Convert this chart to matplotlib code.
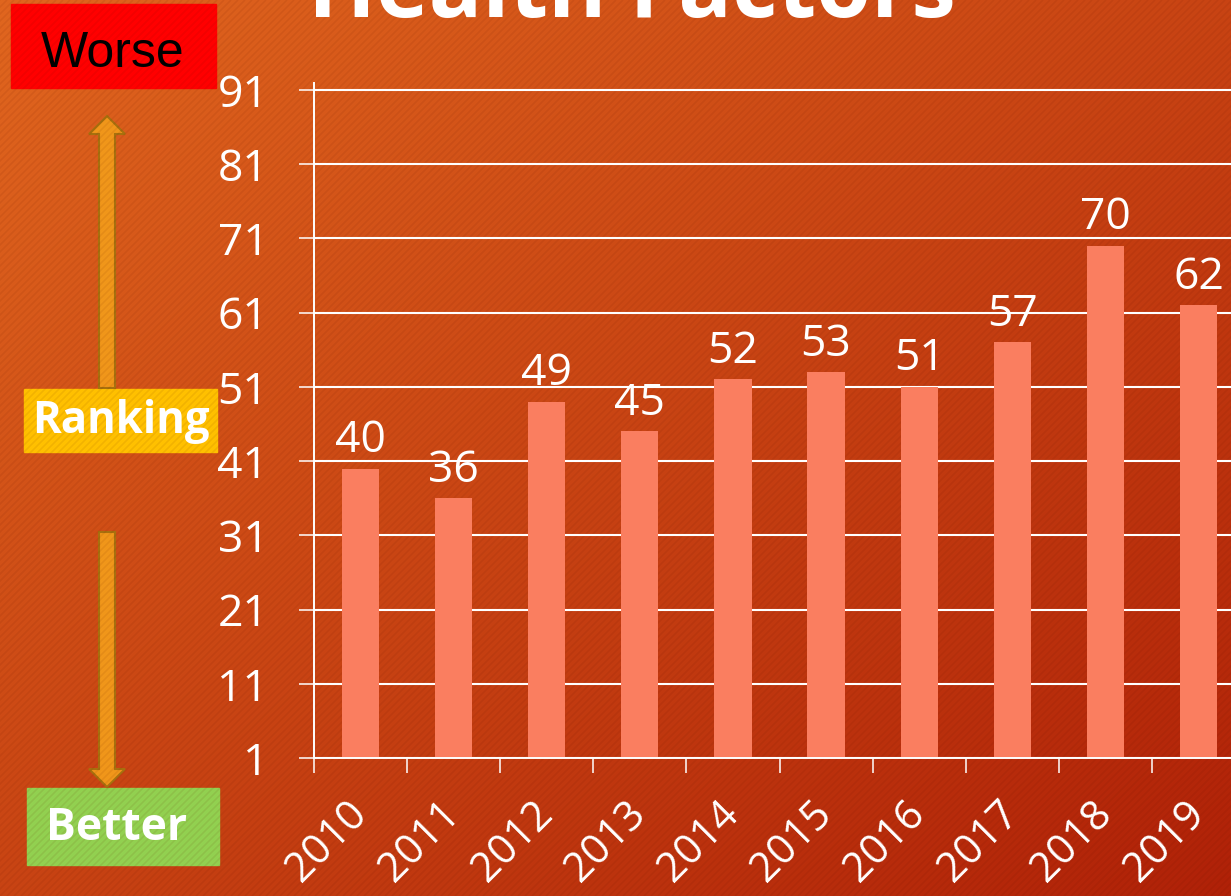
import matplotlib.pyplot as plt
import numpy as np
from matplotlib.patches import Rectangle, Polygon
from matplotlib.collections import LineCollection

plt.rcParams['font.family'] = ['Open Sans', 'DejaVu Sans']

# data
years = ['2010', '2011', '2012', '2013', '2014', '2015', '2016', '2017', '2018', '2019']
ranks = [40, 36, 49, 45, 52, 53, 51, 57, 70, 62]
yticks = [1, 11, 21, 31, 41, 51, 61, 71, 81, 91]

W, H = 1231, 896
fig = plt.figure(figsize=(W / 100, H / 100), dpi=100)

# background: diagonal orange -> red gradient with faint stripes (pixel coords)
bg = fig.add_axes([0, 0, 1, 1], zorder=0)
bg.set_xlim(0, W)
bg.set_ylim(H, 0)
bg.axis('off')
yy, xx = np.mgrid[0:1:200j, 0:1:200j]
t = (xx + yy) / 2
c0 = np.array([0.88, 0.40, 0.12])
c1 = np.array([0.69, 0.13, 0.03])
img = c0 + (c1 - c0) * t[..., None]
bg.imshow(img, extent=(0, W, H, 0), aspect='auto', interpolation='bilinear')
offs = np.arange(-H, W, 7)
segs = [[(o, H), (o + H, 0)] for o in offs]
bg.add_collection(LineCollection(segs, colors='#5a1000', linewidths=1.2, alpha=0.08))

# title (cut off at the top as in the slide)
bg.text(632, 17, 'Health Factors', ha='center', va='baseline', fontsize=64,
        fontweight='bold', color='white')

# side legend: Worse / Ranking / Better with arrows
bg.add_patch(Rectangle((11, 4), 205, 84, color='#FF0000'))
bg.text(113, 54, 'Worse', ha='center', va='center', fontsize=36,
        family='Liberation Sans', color='black')
bg.add_patch(Rectangle((24, 389), 193, 63, color='#FFC000'))
bg.text(121, 421, 'Ranking', ha='center', va='center', fontsize=31.5,
        fontweight='bold', color='white')
bg.add_patch(Rectangle((27, 788), 192, 77, color='#92D050'))
bg.text(117, 828, 'Better', ha='center', va='center', fontsize=32,
        fontweight='bold', color='white')

up = [(107, 116), (125, 134), (115, 134), (115, 388), (99, 388), (99, 134), (89, 134)]
down = [(107, 787), (125, 769), (115, 769), (115, 532), (99, 532), (99, 769), (89, 769)]
for pts in (up, down):
    bg.add_patch(Polygon(pts, closed=True, facecolor='#F0961A', edgecolor='#A8700E', lw=1.5))

# main bar chart
ax = fig.add_axes([314 / W, (H - 758) / H, 931 / W, 675.4 / H], zorder=1)
ax.patch.set_alpha(0)
x = np.arange(len(years))
bars = ax.bar(x, ranks, width=0.4, color='#FA7E60', zorder=2)
ax.set_xlim(-0.5, 9.5)
ax.set_ylim(1, 92)

ax.set_yticks(yticks)
ax.yaxis.grid(True, color='white', lw=1.5)
ax.set_axisbelow(True)
ax.tick_params(axis='y', length=10.8, width=1.1, color='white', pad=22,
               labelsize=32, labelcolor='white')

ax.set_xticks(np.arange(-0.5, 10, 1))
ax.set_xticklabels([])
ax.set_xticks(x, years, minor=True)
ax.tick_params(axis='x', which='major', length=10.8, width=1.1, color='white')
ax.tick_params(axis='x', which='minor', length=0, pad=36, labelsize=30,
               labelcolor='white', labelrotation=45)
for lbl in ax.get_xticklabels(minor=True):
    lbl.set_ha('right')
    lbl.set_va('center')
    lbl.set_rotation_mode('anchor')

for s in ['top', 'right']:
    ax.spines[s].set_visible(False)
for s in ['left', 'bottom']:
    ax.spines[s].set_color('white')
    ax.spines[s].set_linewidth(1.4)

ax.bar_label(bars, padding=4, color='white', fontsize=32)

fig.savefig('out.png', dpi=100)
